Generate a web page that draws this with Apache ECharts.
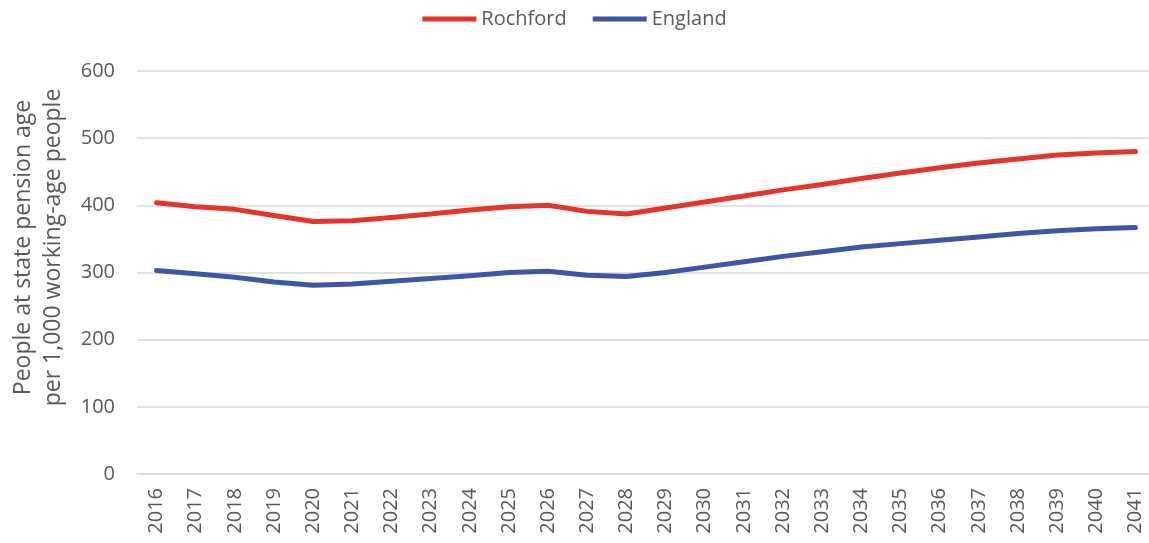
<!DOCTYPE html>
<html>
<head>
<meta charset="utf-8">
<title>Pension age ratio</title>
<script src="https://cdn.jsdelivr.net/npm/echarts@6/dist/echarts.min.js"></script>
<style>
  html, body { margin: 0; padding: 0; background: #fff; }
  #chart { width: 1149px; height: 543px; }
</style>
</head>
<body>
<div id="chart"></div>
<script>
// years on the x axis
const years = ['2016', '2017', '2018', '2019', '2020', '2021', '2022', '2023', '2024',
  '2025', '2026', '2027', '2028', '2029', '2030', '2031', '2032', '2033', '2034',
  '2035', '2036', '2037', '2038', '2039', '2040', '2041']

// people at state pension age per 1,000 working-age people
const rochford = [404, 398, 394, 385, 376, 377, 382, 387, 393, 398, 400, 391, 387,
  396, 405, 414, 423, 431, 440, 448, 456, 463, 469, 475, 478, 480]
const england = [303, 298, 293, 286, 281, 283, 287, 291, 295, 300, 302, 296, 294,
  300, 308, 316, 324, 331, 338, 343, 348, 353, 358, 362, 365, 367]

const yTicks = { min: 0, max: 600, interval: 100 }

const textColor = '#595959'
const font = 'Open Sans'

let myChart = echarts.init(document.getElementById('chart'))

myChart.setOption({
  animation: false,
  textStyle: { fontFamily: font },
  legend: {
    top: 4,
    left: 'center',
    icon: 'rect',
    itemWidth: 54,
    itemHeight: 5,
    itemGap: 26,
    textStyle: { color: textColor, fontSize: 20, fontFamily: font },
    data: ['Rochford', 'England']
  },
  grid: {
    left: 137,
    right: -6,
    top: 71,
    bottom: 69,
    containLabel: false,
    outerBoundsMode: 'none'
  },
  xAxis: {
    type: 'category',
    data: years,
    boundaryGap: true,
    axisLine: { show: true, lineStyle: { color: '#d9d9d9', width: 1.5 } },
    axisTick: { show: false },
    axisLabel: {
      rotate: 90,
      color: textColor,
      fontSize: 20,
      fontFamily: font,
      margin: 14,
      interval: 0
    }
  },
  yAxis: {
    type: 'value',
    min: yTicks.min,
    max: yTicks.max,
    interval: yTicks.interval,
    name: 'People at state pension age\nper 1,000 working-age people',
    nameLocation: 'middle',
    nameRotate: 90,
    nameGap: 69,
    nameTextStyle: {
      color: textColor,
      fontSize: 23,
      fontFamily: font,
      lineHeight: 30,
      padding: [0, 0, 0, 50]
    },
    axisLine: { show: false },
    axisTick: { show: false },
    axisLabel: { color: textColor, fontSize: 20, fontFamily: font, margin: 22 },
    splitLine: { lineStyle: { color: '#d9d9d9', width: 1.5 } }
  },
  series: [
    {
      name: 'Rochford',
      type: 'line',
      data: rochford,
      showSymbol: false,
      symbol: 'none',
      color: '#E5352A',
      lineStyle: { width: 5, cap: 'round', join: 'round' }
    },
    {
      name: 'England',
      type: 'line',
      data: england,
      showSymbol: false,
      symbol: 'none',
      color: '#3F55A6',
      lineStyle: { width: 5, cap: 'round', join: 'round' }
    }
  ]
})
</script>
</body>
</html>
